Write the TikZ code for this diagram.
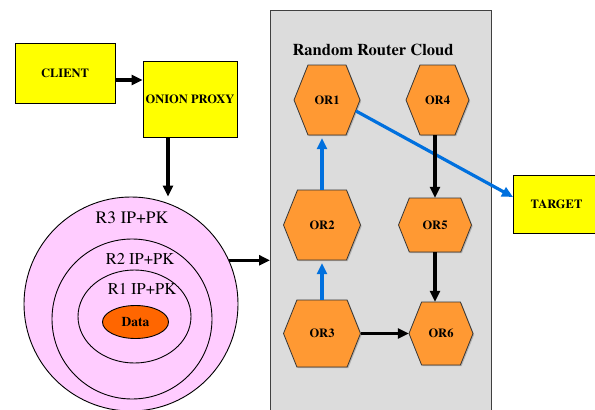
\documentclass[tikz,border=0pt]{standalone}
\usepackage{fontspec}
\setmainfont{texgyretermes}[Extension=.otf, UprightFont=*-regular, BoldFont=*-bold]
\usetikzlibrary{arrows.meta,calc,shadows,shapes.geometric}
\definecolor{boxyellow}{RGB}{255,255,0}
\definecolor{hexorange}{RGB}{255,153,51}
\definecolor{ringpink}{RGB}{255,204,255}
\definecolor{dataorange}{RGB}{255,102,0}
\definecolor{cloudgray}{RGB}{220,220,220}
\definecolor{arrowblue}{RGB}{0,112,222}
\newcommand\hexnode[6]{%
  \pgfmathsetmacro\hxw{#4/2}\pgfmathsetmacro\hxh{#5/2}\pgfmathsetmacro\hxe{#4/2-0.2*#5}%
  \filldraw[hexshape] (#2-\hxw,#3) -- (#2-\hxe,#3-\hxh) -- (#2+\hxe,#3-\hxh) -- (#2+\hxw,#3) -- (#2+\hxe,#3+\hxh) -- (#2-\hxe,#3+\hxh) -- cycle;
  \node[hexlabel, minimum width=#4, minimum height=#5] (#1) at (#2,#3) {#6};}
\tikzset{
  yelbox/.style={draw=black, line width=0.9pt, fill=boxyellow, inner sep=0pt,
    font=\fontsize{12.5}{14}\selectfont\bfseries},
  hexshape/.style={draw=black!80, line width=0.8pt, fill=hexorange,
    drop shadow={shadow xshift=1.2pt, shadow yshift=-1.2pt, opacity=0.45}},
  hexlabel/.style={inner sep=0pt, font=\fontsize{12.5}{14}\selectfont\bfseries},
  ring/.style={draw=black, line width=0.9pt, fill=ringpink, inner sep=0pt},
  ringtext/.style={font=\fontsize{17.5}{19}\selectfont, inner sep=0pt},
  arr/.style={draw=black, line width=3.2pt, -{Triangle[length=11pt,width=10pt]}},
  barr/.style={draw=arrowblue, line width=3.2pt, -{Triangle[length=11pt,width=10pt]}}
}
\begin{document}
\begin{tikzpicture}[x=1pt,y=-1pt]
\useasboundingbox (0,0) rectangle (595,410);
% router cloud background
\path[draw=black!75, line width=0.9pt, fill=cloudgray] (270,10) rectangle (491,420);
\node[font=\fontsize{16.5}{18}\selectfont\bfseries, inner sep=0pt] (cloud) at (373,50) {Random Router Cloud};
\coordinate (cloudwest) at (270,261);
% boxes
\node[yelbox, minimum width=100, minimum height=60] (client) at (65,73) {CLIENT};
\node[yelbox, minimum width=94, minimum height=76] (proxy) at (190,99) {ONION PROXY};
\node[yelbox, minimum width=86, minimum height=58, anchor=west] (target) at (513,204) {TARGET};
% onion rings
\node[ring, circle, minimum size=214] (r3) at (131,304) {};
\node[ring, circle, minimum size=160] (r2) at (132,319) {};
\node[ring, ellipse, minimum width=113, minimum height=93] (r1) at (134.5,316.5) {};
\node[draw=black, line width=0.9pt, fill=dataorange, ellipse, minimum width=66, minimum height=33, inner sep=0pt,
  font=\fontsize{13.5}{15}\selectfont\bfseries] (data) at (135.5,322) {Data};
\node[ringtext] (t3) at (132,218) {R3 IP+PK};
\node[ringtext, font=\fontsize{16.5}{18}\selectfont] (t2) at (140,259) {R2 IP+PK};
\node[ringtext, font=\fontsize{16.5}{18}\selectfont] (t1) at (142,289) {R1 IP+PK};
% routers
\hexnode{or1}{327}{100}{66}{70}{OR1}
\hexnode{or4}{437.5}{100}{63}{70}{OR4}
\hexnode{or2}{322}{225}{77}{70}{OR2}
\hexnode{or5}{435}{225}{73}{54}{OR5}
\hexnode{or3}{322}{333.5}{77}{67}{OR3}
\hexnode{or6}{441}{333.5}{64}{63}{OR6}
% connectors
\draw[arr] ([yshift=-7pt]client.east) -- ([yshift=-7pt]client.east -| proxy.west);
\draw[arr] ([xshift=-22pt]proxy.south) -- ([xshift=-22pt]proxy.south |- r3.north);
\draw[arr] (r3.24) -- (r3.24 -| cloudwest);
\draw[barr] (or3.north) -- ([yshift=-3pt]or3.north |- or2.south);
\draw[barr] (or2.north) -- ([yshift=-3pt]or2.north |- or1.south);
\coordinate (or1out) at ($(or1.center)+(29,11)$);
\draw[barr] (or1out) -- ([yshift=7pt]target.west);
\draw[arr] (or4.south -| or5.north) -- (or5.north);
\draw[arr] (or5.south) -- (or5.south |- or6.north);
\draw[arr] (or3.east) -- (or6.west);
\end{tikzpicture}
\end{document}
